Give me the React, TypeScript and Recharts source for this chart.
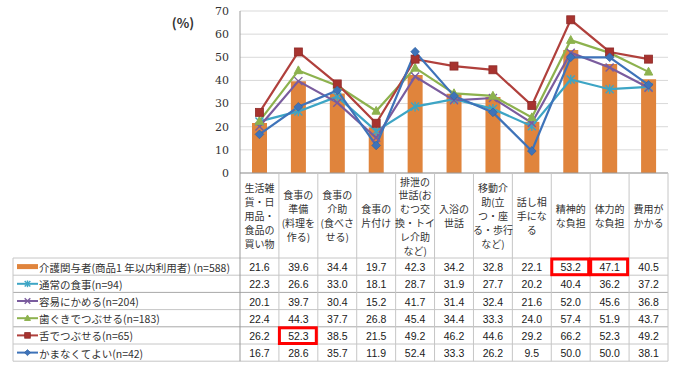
import React from 'react';
import { ComposedChart, Bar, Line, XAxis, YAxis, CartesianGrid } from 'recharts';

const categories: string[][] = [
  ['生活雑', '貨・日', '用品・', '食品の', '買い物'],
  ['食事の', '準備', '(料理を', '作る)'],
  ['食事の', '介助', '(食べさ', 'せる)'],
  ['食事の', '片付け'],
  ['排泄の', '世話(お', 'むつ交', '換・トイ', 'レ介助', 'など)'],
  ['入浴の', '世話'],
  ['移動介', '助(立', 'つ・座', 'る・歩行', 'など)'],
  ['話し相', '手にな', 'る'],
  ['精神的', 'な負担'],
  ['体力的', 'な負担'],
  ['費用が', 'かかる'],
];
const categoryKeys = categories.map((c) => c.join(''));

const care = [21.6, 39.6, 34.4, 19.7, 42.3, 34.2, 32.8, 22.1, 53.2, 47.1, 40.5];
const normal = [22.3, 26.6, 33.0, 18.1, 28.7, 31.9, 27.7, 20.2, 40.4, 36.2, 37.2];
const easy = [20.1, 39.7, 30.4, 15.2, 41.7, 31.4, 32.4, 21.6, 52.0, 45.6, 36.8];
const gum = [22.4, 44.3, 37.7, 26.8, 45.4, 34.4, 33.3, 24.0, 57.4, 51.9, 43.7];
const tongue = [26.2, 52.3, 38.5, 21.5, 49.2, 46.2, 44.6, 29.2, 66.2, 52.3, 49.2];
const noChew = [16.7, 28.6, 35.7, 11.9, 52.4, 33.3, 26.2, 9.5, 50.0, 50.0, 38.1];

const seriesKeys = ['care', 'normal', 'easy', 'gum', 'tongue', 'noChew'];
const seriesValues = [care, normal, easy, gum, tongue, noChew];
const seriesNames = [
  '介護関与者(商品1 年以内利用者) (n=588)',
  '通常の食事(n=94)',
  '容易にかめる(n=204)',
  '歯ぐきでつぶせる(n=183)',
  '舌でつぶせる(n=65)',
  'かまなくてよい(n=42)',
];
const seriesShapes = ['bar', 'star', 'x', 'triangle', 'square', 'diamond'];
const seriesColors = ['#E0843C', '#3DA5C5', '#7A5C9E', '#8DB24E', '#B0403C', '#3E73B9'];

// [row, category] cells boxed in red
const highlights = [
  [0, 8],
  [0, 9],
  [4, 1],
];

const yTicks = [0, 10, 20, 30, 40, 50, 60, 70];

const data = categoryKeys.map((name, i) => {
  const row: Record<string, any> = { name };
  seriesKeys.forEach((k, s) => (row[k] = seriesValues[s][i]));
  return row;
});

const W = 680;
const H = 372;
const PLOT_LEFT = 240;
const PLOT_RIGHT = 668;
const PLOT_TOP = 11;
const PLOT_BOTTOM = 173;
const TABLE_TOP = 258;
const ROW_H = 17.2;
const TABLE_BOTTOM = TABLE_TOP + ROW_H * 6;
const LEGEND_LEFT = 13;
const COL_W = (PLOT_RIGHT - PLOT_LEFT) / categories.length;
const XAXIS_H = 188;

const JP = '"Noto Sans CJK JP", sans-serif';
const NUM = '"Liberation Sans", Arial, sans-serif';

function Marker({ shape, cx, cy, color, s }: { shape: string; cx: number; cy: number; color: string; s: number }) {
  if (shape === 'square')
    return <rect x={cx - s} y={cy - s} width={s * 2} height={s * 2} fill="#A7332F" stroke="#8E2A28" strokeWidth={0.8} />;
  if (shape === 'triangle')
    return (
      <polygon
        points={`${cx},${cy - s * 1.15} ${cx + s * 1.05},${cy + s * 0.8} ${cx - s * 1.05},${cy + s * 0.8}`}
        fill={color}
        stroke={color}
      />
    );
  if (shape === 'diamond')
    return (
      <polygon
        points={`${cx},${cy - s * 1.1} ${cx + s * 1.1},${cy} ${cx},${cy + s * 1.1} ${cx - s * 1.1},${cy}`}
        fill={color}
        stroke="#2F5F9E"
        strokeWidth={0.6}
      />
    );
  if (shape === 'x')
    return (
      <g stroke={color} strokeWidth={1.4}>
        <line x1={cx - s} y1={cy - s} x2={cx + s} y2={cy + s} />
        <line x1={cx - s} y1={cy + s} x2={cx + s} y2={cy - s} />
      </g>
    );
  return (
    <g stroke={color} strokeWidth={1.4}>
      <line x1={cx - s} y1={cy - s} x2={cx + s} y2={cy + s} />
      <line x1={cx - s} y1={cy + s} x2={cx + s} y2={cy - s} />
      <line x1={cx} y1={cy - s * 1.2} x2={cx} y2={cy + s * 1.2} />
    </g>
  );
}

const makeDot = (shape: string, color: string) => (p: any) =>
  p.cx == null ? <g key={`${shape}-${p.index}`} /> : (
    <g key={`${shape}-${p.index}`}>
      <Marker shape={shape} cx={p.cx} cy={p.cy} color={color} s={4} />
    </g>
  );

function ColumnTick(props: any) {
  const { x, payload } = props;
  const i = categoryKeys.indexOf(payload.value);
  const lines = categories[i] || [];
  const left = x - COL_W / 2;
  const right = x + COL_W / 2;
  const lh = 13.8;
  const mid = (PLOT_BOTTOM + TABLE_TOP) / 2;
  const start = mid - ((lines.length - 1) * lh) / 2;
  return (
    <g>
      {i === 0 && <line x1={left} y1={PLOT_BOTTOM} x2={left} y2={TABLE_BOTTOM} stroke="#9A9A9A" />}
      <line x1={right} y1={PLOT_BOTTOM} x2={right} y2={TABLE_BOTTOM} stroke="#C6C6C6" />
      {lines.map((t, k) => (
        <text key={k} x={x} y={start + k * lh} textAnchor="middle" dominantBaseline="central" fontSize={10} fontFamily={JP} fill="#333">
          {t}
        </text>
      ))}
      {seriesValues.map((vals, r) => (
        <text
          key={r}
          x={x}
          y={TABLE_TOP + ROW_H * (r + 0.5) + 0.5}
          textAnchor="middle"
          dominantBaseline="central"
          fontSize={10.5}
          fontFamily={NUM}
          fill="#1A1A1A"
        >
          {vals[i].toFixed(1)}
        </text>
      ))}
      {highlights
        .filter(([, c]) => c === i)
        .map(([r]) => (
          <rect
            key={r}
            x={left + 0.5}
            y={TABLE_TOP + ROW_H * r + 1}
            width={COL_W - 2}
            height={ROW_H - 1.5}
            fill="none"
            stroke="#FF0000"
            strokeWidth={3}
          />
        ))}
    </g>
  );
}

function TableFrame() {
  return (
    <svg width={W} height={H} style={{ position: 'absolute', left: 0, top: 0 }}>
      {Array.from({ length: 7 }, (_, k) => (
        <line
          key={k}
          x1={LEGEND_LEFT}
          x2={PLOT_RIGHT}
          y1={TABLE_TOP + ROW_H * k}
          y2={TABLE_TOP + ROW_H * k}
          stroke={k === 2 || k === 4 ? '#A8A8A8' : '#C6C6C6'}
        />
      ))}
      <line x1={LEGEND_LEFT} x2={LEGEND_LEFT} y1={TABLE_TOP} y2={TABLE_BOTTOM} stroke="#C6C6C6" />
      {seriesNames.map((name, r) => {
        const cy = TABLE_TOP + ROW_H * (r + 0.5);
        const shape = seriesShapes[r];
        const color = seriesColors[r];
        return (
          <g key={r}>
            {shape === 'bar' ? (
              <rect x={17} y={cy - 2.5} width={21} height={5} fill={color} />
            ) : (
              <g>
                <line x1={17} x2={38} y1={cy} y2={cy} stroke={color} strokeWidth={2} />
                <Marker shape={shape} cx={27.5} cy={cy} color={color} s={2.8} />
              </g>
            )}
            <text x={39} y={cy + 0.5} dominantBaseline="central" fontSize={10.5} fontFamily={JP} fill="#333">
              {name}
            </text>
          </g>
        );
      })}
      <text x={183} y={22} textAnchor="middle" dominantBaseline="central" fontSize={13} fontWeight="bold" fontFamily={JP} fill="#333">
        (%)
      </text>
    </svg>
  );
}

export default function App() {
  return (
    <div style={{ position: 'absolute', left: 0, top: 0, width: W, height: H, background: '#fff' }}>
      <TableFrame />
      <div style={{ position: 'absolute', left: 0, top: 0 }}>
        <ComposedChart
          width={W}
          height={H}
          data={data}
          margin={{ top: PLOT_TOP, right: W - PLOT_RIGHT, left: PLOT_LEFT - 40, bottom: H - PLOT_BOTTOM - XAXIS_H }}
        >
          <CartesianGrid vertical={false} stroke="#D9D9D9" />
          <XAxis
            dataKey="name"
            interval={0}
            height={XAXIS_H}
            tickLine={false}
            axisLine={{ stroke: '#9A9A9A' }}
            tick={ColumnTick}
          />
          <YAxis
            width={40}
            domain={[0, 70]}
            ticks={yTicks}
            tickLine={false}
            axisLine={{ stroke: '#9A9A9A' }}
            tickMargin={5}
            tick={{ fontSize: 11, fill: '#333', fontFamily: '"DejaVu Serif", serif' }}
          />
          <Bar dataKey="care" barSize={15} fill={seriesColors[0]} isAnimationActive={false} />
          {seriesKeys.slice(1).map((k, s) => (
            <Line
              key={k}
              dataKey={k}
              type="linear"
              stroke={seriesColors[s + 1]}
              strokeWidth={2.2}
              dot={makeDot(seriesShapes[s + 1], seriesColors[s + 1])}
              activeDot={false}
              isAnimationActive={false}
            />
          ))}
        </ComposedChart>
      </div>
    </div>
  );
}
